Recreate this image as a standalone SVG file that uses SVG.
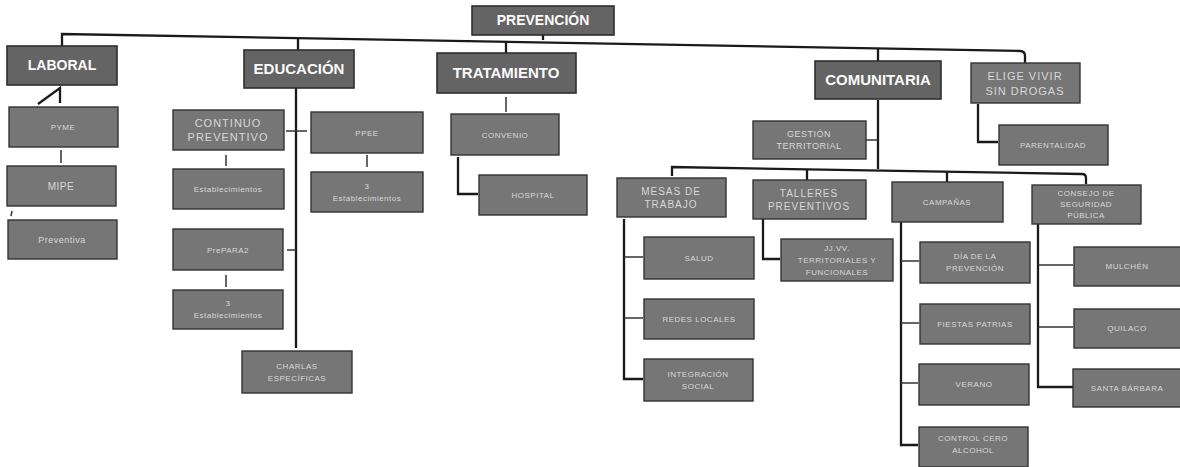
<svg xmlns="http://www.w3.org/2000/svg" width="1180" height="467" viewBox="0 0 1180 467">
<defs>
<style>
.top rect{fill:#646464;stroke:#2e2e2e;stroke-width:1.6}
.sub rect{fill:#767676;stroke:#333;stroke-width:1.4}
.top text{fill:#fafafa;font-family:"Liberation Sans",Arial,sans-serif;font-weight:bold;font-size:14px;text-anchor:middle}
.sub text{fill:#d8d8d8;font-family:"Liberation Sans",Arial,sans-serif;font-size:8px;text-anchor:middle;letter-spacing:0.5px}
.sub text.big{font-size:11px;letter-spacing:1px}
.conn path{fill:none;stroke:#1a1a1a;stroke-width:2.3}
.conn path.thin{stroke-width:1.5;stroke:#333}
</style>
</defs>
<rect width="1180" height="467" fill="#ffffff"/>
<g class="conn">
<path d="M62,46 V34 L1020,51 Q1025,51 1025,56 V63"/>
<path d="M543,35 V40"/>
<path d="M298,38 V50"/>
<path d="M506,42 V53"/>
<path d="M878,49 V61"/>
<path d="M38,104 L60,88 V103"/>
<path class="thin" d="M61,150 V163"/>
<path class="thin" d="M12,211 L11,216"/>
<path d="M296,88 V348"/>
<path class="thin" d="M286,131 H307"/>
<path class="thin" d="M226,155 V166"/>
<path class="thin" d="M287,250 H296"/>
<path class="thin" d="M226,275 V287"/>
<path class="thin" d="M367,155 V167"/>
<path class="thin" d="M506,97 V112"/>
<path d="M458,157 V194 H478"/>
<path d="M878,100 V169"/>
<path class="thin" d="M866,140 H878"/>
<path d="M672,176 V167 L1082,174 Q1086,174 1086,178 V184"/>
<path d="M807,170 V180"/>
<path d="M947,172 V182"/>
<path d="M978,104 V142 H998"/>
<path d="M624,219 V379 H643"/>
<path class="thin" d="M624,257 H643"/>
<path class="thin" d="M624,318 H643"/>
<path d="M763,219 V259 H780"/>
<path d="M901,222 V445 H918"/>
<path class="thin" d="M901,261 H919"/>
<path class="thin" d="M901,323 H919"/>
<path class="thin" d="M901,383 H918"/>
<path d="M1038,224 V387 H1073"/>
<path class="thin" d="M1038,265 H1073"/>
<path class="thin" d="M1038,327 H1073"/>
</g>
<g id="prevencion" class="top"><rect x="472" y="6" width="142" height="29"/><text x="543" y="25" font-size="13">PREVENCIÓN</text></g>
<g id="laboral" class="top"><rect x="7" y="46" width="110" height="39"/><text x="62" y="70">LABORAL</text></g>
<g id="educacion" class="top"><rect x="244" y="50" width="110" height="38"/><text x="299" y="74" style="font-size:15px">EDUCACIÓN</text></g>
<g id="tratamiento" class="top"><rect x="437" y="53" width="139" height="40"/><text x="506" y="78" style="font-size:15px">TRATAMIENTO</text></g>
<g id="comunitaria" class="top"><rect x="815" y="61" width="126" height="38"/><text x="878" y="85" style="font-size:15px">COMUNITARIA</text></g>
<g id="elige" class="sub"><rect x="971" y="63" width="109" height="40"/><text class="big" x="1025" y="80">ELIGE VIVIR</text><text class="big" x="1025" y="95">SIN DROGAS</text></g>
<g id="pyme" class="sub"><rect x="9" y="107" width="109" height="40"/><text x="63" y="130">PYME</text></g>
<g id="mipe" class="sub"><rect x="7" y="166" width="109" height="40"/><text x="61" y="190" style="font-size:10px">MIPE</text></g>
<g id="preventiva" class="sub"><rect x="8" y="220" width="109" height="39"/><text x="62" y="243" style="font-size:9px">Preventiva</text></g>
<g id="continuo" class="sub"><rect x="173" y="110" width="111" height="40"/><text class="big" x="228" y="127">CONTINUO</text><text class="big" x="228" y="141">PREVENTIVO</text></g>
<g id="establecimientos" class="sub"><rect x="173" y="169" width="111" height="40"/><text x="228" y="192">Establecimientos</text></g>
<g id="prepara2" class="sub"><rect x="173" y="229" width="110" height="41"/><text x="228" y="253">PrePARA2</text></g>
<g id="establecimientos3a" class="sub"><rect x="173" y="290" width="110" height="39"/><text x="228" y="306">3</text><text x="228" y="318">Establecimientos</text></g>
<g id="ppee" class="sub"><rect x="311" y="112" width="112" height="41"/><text x="367" y="136">PPEE</text></g>
<g id="establecimientos3b" class="sub"><rect x="311" y="172" width="112" height="40"/><text x="367" y="189">3</text><text x="367" y="201">Establecimientos</text></g>
<g id="charlas" class="sub"><rect x="242" y="351" width="110" height="42"/><text x="297" y="369">CHARLAS</text><text x="297" y="381">ESPECÍFICAS</text></g>
<g id="convenio" class="sub"><rect x="451" y="114" width="108" height="41"/><text x="505" y="138">CONVENIO</text></g>
<g id="hospital" class="sub"><rect x="479" y="175" width="108" height="40"/><text x="533" y="198">HOSPITAL</text></g>
<g id="gestion" class="sub"><rect x="753" y="121" width="113" height="38"/><text x="809" y="137" style="font-size:9px">GESTIÓN</text><text x="809" y="149" style="font-size:9px">TERRITORIAL</text></g>
<g id="mesas" class="sub"><rect x="617" y="178" width="109" height="39"/><text class="big" x="671" y="195" style="font-size:10px">MESAS DE</text><text class="big" x="671" y="208" style="font-size:10px">TRABAJO</text></g>
<g id="talleres" class="sub"><rect x="753" y="180" width="113" height="39"/><text class="big" x="809" y="197" style="font-size:10px">TALLERES</text><text class="big" x="809" y="210" style="font-size:10px">PREVENTIVOS</text></g>
<g id="campanas" class="sub"><rect x="892" y="182" width="111" height="40"/><text x="947" y="205">CAMPAÑAS</text></g>
<g id="consejo" class="sub"><rect x="1032" y="185" width="109" height="39"/><text x="1086" y="196">CONSEJO DE</text><text x="1086" y="207">SEGURIDAD</text><text x="1086" y="218">PÚBLICA</text></g>
<g id="parentalidad" class="sub"><rect x="999" y="125" width="109" height="40"/><text x="1053" y="148">PARENTALIDAD</text></g>
<g id="salud" class="sub"><rect x="644" y="237" width="110" height="42"/><text x="699" y="261">SALUD</text></g>
<g id="redes" class="sub"><rect x="644" y="299" width="110" height="40"/><text x="699" y="322">REDES LOCALES</text></g>
<g id="integracion" class="sub"><rect x="644" y="359" width="109" height="42"/><text x="698" y="377">INTEGRACIÓN</text><text x="698" y="389">SOCIAL</text></g>
<g id="jjvv" class="sub"><rect x="781" y="239" width="112" height="42"/><text x="837" y="251">JJ.VV.</text><text x="837" y="263">TERRITORIALES  Y</text><text x="837" y="275">FUNCIONALES</text></g>
<g id="diaprevencion" class="sub"><rect x="920" y="242" width="110" height="41"/><text x="975" y="259">DÍA DE LA</text><text x="975" y="271">PREVENCIÓN</text></g>
<g id="fiestas" class="sub"><rect x="920" y="304" width="110" height="40"/><text x="975" y="327">FIESTAS  PATRIAS</text></g>
<g id="verano" class="sub"><rect x="919" y="364" width="110" height="41"/><text x="974" y="387">VERANO</text></g>
<g id="control" class="sub"><rect x="919" y="427" width="109" height="40"/><text x="973" y="441">CONTROL CERO</text><text x="973" y="453">ALCOHOL</text></g>
<g id="mulchen" class="sub"><rect x="1074" y="247" width="110" height="39"/><text x="1127" y="269">MULCHÉN</text></g>
<g id="quilaco" class="sub"><rect x="1074" y="309" width="110" height="39"/><text x="1127" y="331">QUILACO</text></g>
<g id="santabarbara" class="sub"><rect x="1073" y="369" width="110" height="38"/><text x="1127" y="391">SANTA BÁRBARA</text></g>
</svg>
